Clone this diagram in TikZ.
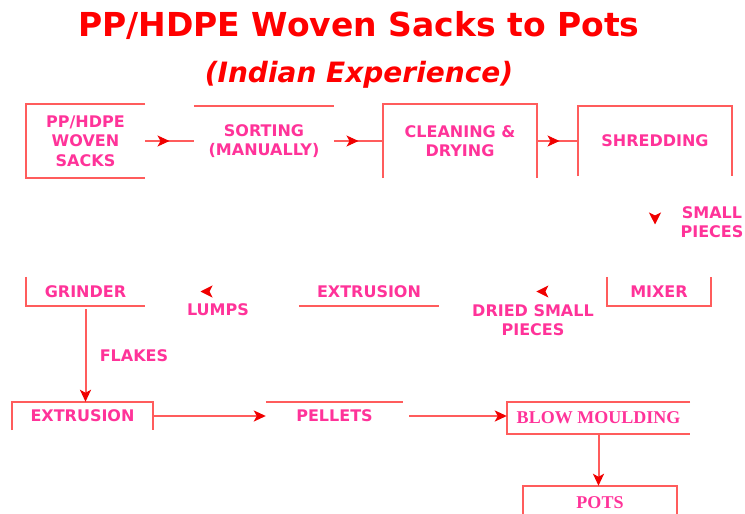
\documentclass[tikz,border=0pt]{standalone}
\usepackage{fontspec}
\setmainfont{DejaVu Sans}
\newfontfamily\serifbold{Liberation Serif}
\usetikzlibrary{arrows.meta,decorations.markings}

\definecolor{boxred}{RGB}{255,92,92}
\definecolor{labelpink}{RGB}{255,51,153}
\definecolor{tipred}{RGB}{240,0,0}

\tikzset{
	stepbox/.style={inner sep=0pt, align=center, text=labelpink, font=\bfseries\fontsize{16}{19.5}\selectfont},
	seriftext/.style={text=labelpink, font=\serifbold\bfseries\fontsize{18}{20}\selectfont},
	edge/.style={draw=boxred, line width=2pt},
	flow/.style={draw=boxred, line width=2pt, -{Stealth[length=12pt,width=11pt,inset=3pt,color=tipred]}},
	midflow/.style={draw=boxred, line width=2pt, postaction={decorate},
		decoration={markings, mark=at position #1 with {\arrow[tipred,line width=1pt]{Stealth[length=12pt,width=11pt,inset=3pt]}}}},
	hiddenflow/.style={decorate,
		decoration={markings, mark=at position #1 with {\arrow[tipred,line width=1pt]{Stealth[length=12pt,width=12pt,inset=3pt]}}}}
}

\begin{document}
\begin{tikzpicture}[x=1pt, y=-1pt]
	\useasboundingbox (0,0) rectangle (745,514);

	% titles
	\node[text=red, font=\bfseries\fontsize{33}{36}\selectfont] (title) at (359,25) {PP/HDPE Woven Sacks to Pots};
	\node[text=red, font=\bfseries\itshape\fontsize{28}{30}\selectfont] (subtitle) at (359,75) {(Indian Experience)};

	% first row
	\node[stepbox, minimum width=119pt, minimum height=74pt] (sacks) at (85.5,141) {PP/HDPE\\WOVEN\\SACKS};
	\node[stepbox, minimum width=140pt, minimum height=70pt] (sorting) at (264,141) {SORTING\\(MANUALLY)};
	\node[stepbox, minimum width=154pt, minimum height=74pt] (cleaning) at (460,141) {CLEANING \&\\DRYING};
	\node[stepbox, minimum width=154pt, minimum height=70pt] (shredding) at (655,141) {SHREDDING};

	% second row
	\node[stepbox, minimum width=104pt, minimum height=29pt] (mixer) at (659,291.5) {MIXER};
	\node[stepbox, minimum width=140pt, minimum height=29pt] (extrmid) at (369,291.5) {EXTRUSION};
	\node[stepbox, minimum width=119pt, minimum height=29pt] (grinder) at (85.5,291.5) {GRINDER};

	% third row
	\node[stepbox, minimum width=141pt, minimum height=28pt] (extrlow) at (82.5,416) {EXTRUSION};
	\node[stepbox, minimum width=137pt, minimum height=28pt] (pellets) at (334.5,416) {PELLETS};
	\node[stepbox, seriftext, minimum width=183pt, minimum height=32pt] (blow) at (598.5,418) {BLOW MOULDING};
	\node[stepbox, seriftext, minimum width=154pt, minimum height=34pt] (pots) at (600,503) {POTS};

	% labels beside the flow
	\node[stepbox] (smallpieces) at (712,222) {SMALL\\PIECES};
	\node[stepbox] (driedpieces) at (533,320) {DRIED SMALL\\PIECES};
	\node[stepbox] (lumps) at (218,310) {LUMPS};
	\node[stepbox] (flakes) at (134,356) {FLAKES};

	% box outlines, open on some sides
	\draw[edge] (sacks.north east) -- (sacks.north west) -- (sacks.south west) -- (sacks.south east);
	\draw[edge] (sorting.north west) -- (sorting.north east);
	\draw[edge] (cleaning.south west) -- (cleaning.north west) -- (cleaning.north east) -- (cleaning.south east);
	\draw[edge] (shredding.south west) -- (shredding.north west) -- (shredding.north east) -- (shredding.south east);
	\draw[edge] (mixer.north west) -- (mixer.south west) -- (mixer.south east) -- (mixer.north east);
	\draw[edge] (extrmid.south west) -- (extrmid.south east);
	\draw[edge] (grinder.north west) -- (grinder.south west) -- (grinder.south east);
	\draw[edge] (extrlow.south west) -- (extrlow.north west) -- (extrlow.north east) -- (extrlow.south east);
	\draw[edge] (pellets.north west) -- (pellets.north east);
	\draw[edge] (blow.north east) -- (blow.north west) -- (blow.south west) -- (blow.south east);
	\draw[edge] (pots.south west) -- (pots.north west) -- (pots.north east) -- (pots.south east);

	% connectors
	\draw[midflow=0.5] (sacks.east) -- (sorting.west);
	\draw[midflow=0.5] (sorting.east) -- (cleaning.west);
	\draw[midflow=0.55] (cleaning.east) -- (shredding.west);
	\path[hiddenflow=0.48] (shredding.south) -- (shredding.south |- mixer.north);
	\path[hiddenflow=0.42] (mixer.west) -- (extrmid.east);
	\path[hiddenflow=0.64] (extrmid.west) -- (grinder.east);
	\draw[flow] ([yshift=-3pt]grinder.south) -- (grinder.south |- extrlow.north);
	\draw[flow] (extrlow.east) -- (pellets.west);
	\draw[flow] ([xshift=6pt]pellets.east) -- (pellets.east -| blow.west);
	\draw[flow] (blow.south) -- (blow.south |- pots.north);
\end{tikzpicture}
\end{document}
